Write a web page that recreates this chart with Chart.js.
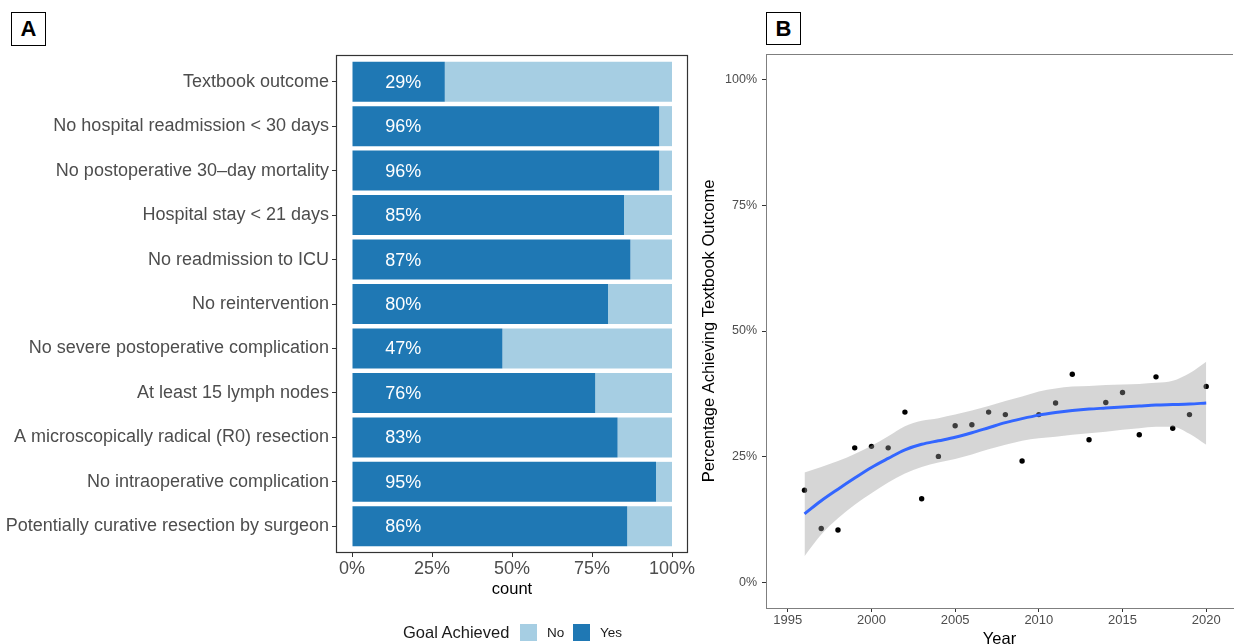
<!DOCTYPE html>
<html>
<head>
<meta charset="utf-8">
<script src="https://cdn.jsdelivr.net/npm/chart.js@4.4.1/dist/chart.umd.min.js"></script>
<style>
  html, body { margin: 0; padding: 0; background: #fff; }
  body {
    position: relative; width: 1237px; height: 644px; overflow: hidden;
    font-family: 'Liberation Sans', Arial, Helvetica, sans-serif;
  }
  canvas { position: absolute; top: 0; }
  #chartA { left: 0; }
  #chartB { left: 700px; }
  .tag {
    position: absolute; top: 12px; box-sizing: border-box; width: 35px; height: 34px;
    border: 1.3px solid #000; font-weight: bold; font-size: 22px; line-height: 31px;
    text-align: center; color: #000; background: #fff;
  }
  .lg { position: absolute; white-space: nowrap; color: #1a1a1a; }
  .sw { position: absolute; width: 17px; height: 17px; }
</style>
</head>
<body>
<canvas id="chartA" width="700" height="644"></canvas>
<canvas id="chartB" width="537" height="680"></canvas>

<div class="tag" style="left:11px;">A</div>
<div class="tag" style="left:766px;height:33px;">B</div>

<div class="lg" style="left:403px;top:622px;font-size:16.5px;line-height:20px;">Goal Achieved</div>
<div class="sw" style="left:520px;top:624px;background:#a6cee3;"></div>
<div class="lg" style="left:547px;top:624px;font-size:13.5px;line-height:17px;">No</div>
<div class="sw" style="left:573px;top:624px;background:#1f78b4;"></div>
<div class="lg" style="left:600px;top:624px;font-size:13.5px;line-height:17px;">Yes</div>

<script>
// ---- Panel A: share of patients meeting each quality criterion ----
const categories = [
  'Textbook outcome',
  'No hospital readmission < 30 days',
  'No postoperative 30\u2013day mortality',
  'Hospital stay < 21 days',
  'No readmission to ICU',
  'No reintervention',
  'No severe postoperative complication',
  'At least 15 lymph nodes',
  'A microscopically radical (R0) resection',
  'No intraoperative complication',
  'Potentially curative resection by surgeon'
];
const yesPct = [29, 96, 96, 85, 87, 80, 47, 76, 83, 95, 86];
const noPct  = [71,  4,  4, 15, 13, 20, 53, 24, 17,  5, 14];
const pctTicksA = [0, 25, 50, 75, 100];

// ---- Panel B: yearly textbook outcome rate with loess fit ----
const years = [1996, 1997, 1998, 1999, 2000, 2001, 2002, 2003, 2004, 2005, 2006, 2007, 2008,
               2009, 2010, 2011, 2012, 2013, 2014, 2015, 2016, 2017, 2018, 2019, 2020];
const pctTextbook = [18.4, 10.8, 10.5, 26.8, 27.1, 26.8, 33.9, 16.7, 25.1, 31.2, 31.4, 33.9, 33.4,
                     24.2, 33.4, 35.7, 41.4, 28.4, 35.8, 37.8, 29.4, 40.9, 30.7, 33.4, 39.0];
const fitYears = years;
const fitPct   = [13.7, 16.3, 18.6, 20.8, 22.9, 24.7, 26.4, 27.5, 28.2, 28.9, 29.8, 30.8, 31.8,
                  32.6, 33.3, 33.8, 34.2, 34.5, 34.7, 34.9, 35.1, 35.3, 35.4, 35.5, 35.7];
const fitLower = [5.3, 9.6, 12.8, 15.5, 17.8, 19.9, 21.7, 23.0, 23.9, 24.6, 25.5, 26.5, 27.4,
                  28.2, 28.7, 29.0, 29.4, 29.7, 30.0, 30.4, 30.7, 31.0, 31.0, 29.6, 27.4];
const fitUpper = [21.9, 23.0, 24.2, 25.6, 27.2, 29.1, 31.1, 32.2, 32.7, 33.4, 34.2, 35.1, 36.1,
                  37.0, 38.0, 38.6, 39.0, 39.1, 39.3, 39.4, 39.5, 39.7, 40.1, 41.6, 43.9];
const yearTicks = [1995, 2000, 2005, 2010, 2015, 2020];
const pctTicksB = [0, 25, 50, 75, 100];

const FONT = "'Liberation Sans', Arial, Helvetica, sans-serif";
Chart.defaults.font.family = FONT;
Chart.defaults.color = '#4d4d4d';

// full box around panel A plotting region
const frameA = {
  id: 'frameA',
  afterDraw(chart) {
    const { ctx, chartArea: a } = chart;
    ctx.save();
    ctx.strokeStyle = '#333';
    ctx.lineWidth = 1.2;
    ctx.strokeRect(a.left + 0.5, a.top + 0.5, a.right - a.left - 1, a.bottom - a.top - 1);
    ctx.restore();
  }
};

// percentage text inside the "Yes" segment
const barLabels = {
  id: 'barLabels',
  afterDatasetsDraw(chart) {
    const { ctx, scales: { x, y } } = chart;
    ctx.save();
    ctx.fillStyle = '#ffffff';
    ctx.font = '18px ' + FONT;
    ctx.textAlign = 'center';
    ctx.textBaseline = 'middle';
    yesPct.forEach((v, i) => {
      ctx.fillText(v + '%', x.getPixelForValue(16), y.getPixelForValue(i + 1) + 1);
    });
    ctx.restore();
  }
};

new Chart(document.getElementById('chartA'), {
  type: 'bar',
  data: {
    datasets: [
      { label: 'Yes', data: yesPct.map((v, i) => ({ x: v, y: i + 1 })), backgroundColor: '#1f78b4' },
      { label: 'No',  data: noPct.map((v, i) => ({ x: v, y: i + 1 })),  backgroundColor: '#a6cee3' }
    ]
  },
  options: {
    indexAxis: 'y',
    responsive: false,
    animation: false,
    devicePixelRatio: 1,
    layout: { padding: { left: 0, top: 55, right: 12, bottom: 0 } },
    datasets: { bar: { barPercentage: 0.9, categoryPercentage: 1, borderWidth: 0 } },
    plugins: { legend: { display: false }, tooltip: { enabled: false } },
    scales: {
      x: {
        type: 'linear', stacked: true, min: -5, max: 105,
        afterBuildTicks: s => { s.ticks = pctTicksA.map(v => ({ value: v })); },
        afterFit: s => { s.height = 91; s.paddingLeft = 0; s.paddingRight = 0; },
        border: { display: false },
        grid: { drawOnChartArea: false, drawTicks: true, tickLength: 4, color: '#333' },
        ticks: { padding: 1, autoSkip: false, maxRotation: 0, color: '#4d4d4d',
                 font: { size: 18 }, callback: v => v + '%' },
        title: { display: true, text: 'count', color: '#000', font: { size: 16.5 },
                 padding: { top: 0, bottom: 45 } }
      },
      y: {
        type: 'linear', stacked: true, min: 0.4, max: 11.6, reverse: true, offset: false,
        afterBuildTicks: s => { s.ticks = categories.map((_, i) => ({ value: i + 1 })); },
        afterFit: s => { s.width = 336; s.paddingTop = 0; s.paddingBottom = 0; },
        border: { display: false },
        grid: { offset: false, drawOnChartArea: false, drawTicks: true, tickLength: 4, color: '#333' },
        ticks: { padding: 3, autoSkip: false, color: '#4d4d4d', font: { size: 18 },
                 callback: v => categories[v - 1] }
      }
    }
  },
  plugins: [frameA, barLabels]
});

// top edge of panel B
const topLineB = {
  id: 'topLineB',
  afterDraw(chart) {
    const { ctx, chartArea: a } = chart;
    ctx.save();
    ctx.strokeStyle = '#7f7f7f';
    ctx.lineWidth = 1;
    ctx.beginPath();
    ctx.moveTo(a.left, a.top + 0.5);
    ctx.lineTo(a.right, a.top + 0.5);
    ctx.stroke();
    ctx.restore();
  }
};

const toXY = (xs, ys) => xs.map((x, i) => ({ x: x, y: ys[i] }));

new Chart(document.getElementById('chartB'), {
  type: 'scatter',
  data: {
    datasets: [
      { label: 'loess', data: toXY(fitYears, fitPct), showLine: true, borderColor: '#3366FF',
        borderWidth: 3, pointRadius: 0, cubicInterpolationMode: 'monotone', fill: false },
      { label: 'upper', data: toXY(fitYears, fitUpper), showLine: true, borderColor: 'rgba(0,0,0,0)',
        borderWidth: 0, pointRadius: 0, cubicInterpolationMode: 'monotone',
        fill: '+1', backgroundColor: 'rgba(153,153,153,0.4)' },
      { label: 'lower', data: toXY(fitYears, fitLower), showLine: true, borderColor: 'rgba(0,0,0,0)',
        borderWidth: 0, pointRadius: 0, cubicInterpolationMode: 'monotone', fill: false },
      { label: 'rate', data: toXY(years, pctTextbook), showLine: false, pointRadius: 2.7,
        backgroundColor: '#000', borderWidth: 0 }
    ]
  },
  options: {
    responsive: false,
    animation: false,
    devicePixelRatio: 1,
    layout: { padding: { left: 0, top: 54, right: 0, bottom: 0 } },
    plugins: { legend: { display: false }, tooltip: { enabled: false } },
    scales: {
      x: {
        type: 'linear', min: 1993.7, max: 2021.6,
        afterBuildTicks: s => { s.ticks = yearTicks.map(v => ({ value: v })); },
        afterFit: s => { s.height = 72; s.paddingLeft = 0; s.paddingRight = 0; },
        border: { display: true, color: '#7f7f7f', width: 1 },
        grid: { drawOnChartArea: false, drawTicks: true, tickLength: 4, color: '#333' },
        ticks: { padding: 1, autoSkip: false, maxRotation: 0, color: '#4d4d4d',
                 font: { size: 13 }, callback: v => String(v) },
        title: { display: true, text: 'Year', color: '#000', font: { size: 16.5 },
                 padding: { top: 0, bottom: 31 } }
      },
      y: {
        type: 'linear', min: -5, max: 105,
        afterBuildTicks: s => { s.ticks = pctTicksB.map(v => ({ value: v })); },
        afterFit: s => { s.width = 66; s.paddingTop = 0; s.paddingBottom = 0; },
        border: { display: true, color: '#7f7f7f', width: 1 },
        grid: { drawOnChartArea: false, drawTicks: true, tickLength: 4, color: '#333' },
        ticks: { padding: 5, autoSkip: false, color: '#4d4d4d', font: { size: 12.5 },
                 callback: v => v + '%' },
        title: { display: true, text: 'Percentage Achieving Textbook Outcome', color: '#000',
                 font: { size: 16.5 }, padding: { top: 0, bottom: 0 } }
      }
    }
  },
  plugins: [topLineB]
});
</script>
</body>
</html>
